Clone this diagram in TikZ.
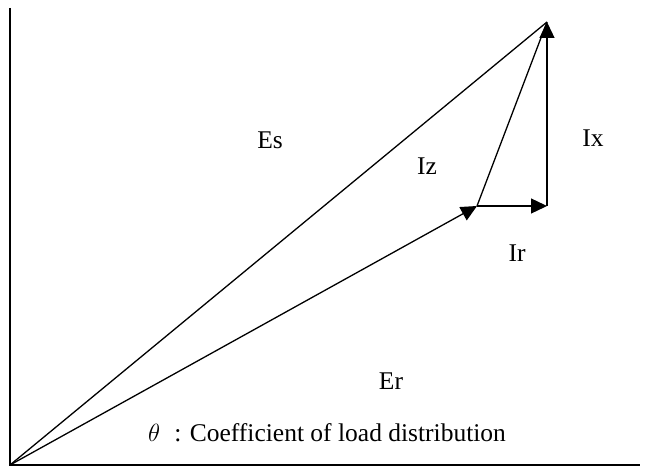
\documentclass[tikz,border=0pt]{standalone}
\usepackage{fontspec}
\setmainfont{Liberation Serif}
\usetikzlibrary{arrows.meta}
\begin{document}
\begin{tikzpicture}[x=1pt,y=-1pt,
  vec/.style={line width=1.3pt,-{Triangle[length=16pt,width=15pt]}},
  seg/.style={line width=1.3pt},
  axis/.style={line width=1.8pt},
  lbl/.style={font=\fontsize{25.5}{28}\selectfont,inner sep=0pt}]
\useasboundingbox (0,0) rectangle (650,468);
\coordinate (O) at (10,465);
\coordinate (Top) at (10,8);
\coordinate (R) at (640,465);
\coordinate (A) at (477,206);
\coordinate (B) at (547,206);
\coordinate (T) at (547,22);
\draw[axis] (Top) -- (O) -- (R);
\draw[seg] (O) -- (T);
\draw[vec] (O) -- (A);
\draw[seg] (A) -- (T);
\draw[vec] (A) -- (B);
\draw[vec] (B) -- (T);
\node[lbl] (es) at (270,140) {Es};
\node[lbl] (iz) at (427,166) {Iz};
\node[lbl] (ix) at (593,138) {Ix};
\node[lbl] (ir) at (517,253) {Ir};
\node[lbl] (er) at (391,381) {Er};
\node[lbl,anchor=west] (th) at (148,433) {$\theta$\hspace{0.55em}: Coefficient of load distribution};
\end{tikzpicture}
\end{document}
